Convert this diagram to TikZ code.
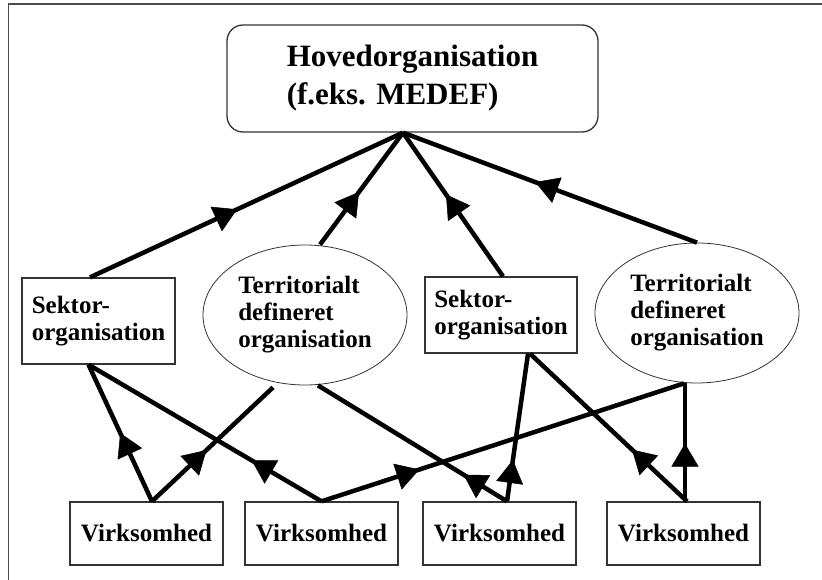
\documentclass[tikz,border=0pt]{standalone}
\usepackage{fontspec}
\setmainfont{Liberation Serif}
\usetikzlibrary{arrows.meta,decorations.markings,shapes.geometric}
\begin{document}
\begin{tikzpicture}[x=1pt,y=-1pt,
  every node/.style={font=\bfseries\fontsize{25}{27}\selectfont, align=left, inner sep=0pt},
  org/.style={draw=black!80, line width=1.3pt, rectangle},
  terr/.style={draw=black!80, line width=0.8pt, ellipse, minimum width=204pt, minimum height=140pt},
  firm/.style={draw=black!80, line width=1.3pt, rectangle, minimum width=153pt, minimum height=63pt},
  link/.style={line width=4.5pt, line join=round},
  tipat/.style={postaction={decorate}, decoration={markings, mark=at position #1 with {\arrow{Triangle[length=23pt,width=27pt,line width=0.5pt]}}}}
]
\useasboundingbox (0,0) rectangle (822,580);
\draw[line width=1.6pt, black!70] (8.5,580) -- (8.5,4) -- (822,4);

\node[org, rounded corners=16pt, minimum width=371pt, minimum height=107pt,
      font=\bfseries\fontsize{31}{38}\selectfont] (hq) at (412.5,78.5) {Hovedorganisation\\(f.eks. MEDEF)};

\node[org, minimum width=153pt, minimum height=86pt] (s1) at (98.5,321) {Sektor-\\organisation};
\node[terr] (e1) at (305,315) {Territorialt\\defineret\\organisation};
\node[org, minimum width=152pt, minimum height=76pt] (s2) at (501,315) {Sektor-\\organisation};
\node[terr] (e2) at (697,313) {Territorialt\\defineret\\organisation};

\node[firm] (v1) at (146.5,533.5) {Virksomhed};
\node[firm] (v2) at (321.5,533.5) {Virksomhed};
\node[firm] (v3) at (499.5,533.5) {Virksomhed};
\node[firm] (v4) at (683.5,533.5) {Virksomhed};

\coordinate (apex) at ([xshift=-9.5pt]hq.south);

% upper level
\draw[link, tipat=0.47] ([xshift=-8.5pt]s1.north) -- (apex);
\draw[link, tipat=0.47] ([xshift=15pt]e1.north) -- (apex);
\draw[link, tipat=0.57] ([xshift=2pt]s2.north) -- (apex);
\draw[link, tipat=0.55] (e2.north) -- (apex);

% lower level
\draw[link, tipat=0.5] ([xshift=5.5pt]v1.north) -- ([xshift=-10pt]s1.south);
\draw[link, tipat=0.45] ([xshift=5.5pt]v1.north) -- ([xshift=-32pt,yshift=-2pt]e1.south);
\draw[link, tipat=0.3] (v2.north) -- ([xshift=-10pt]s1.south);
\draw[link, tipat=0.27] (v2.north) -- ([xshift=-13pt]e2.south);
\draw[link, tipat=0.23] ([xshift=7.5pt]v3.north) -- ([xshift=13pt]e1.south);
\draw[link, tipat=0.28] ([xshift=7.5pt]v3.north) -- ([xshift=27pt]s2.south);
\draw[link, tipat=0.35] ([xshift=3.5pt]v4.north) -- ([xshift=29pt]s2.south);
\draw[link, tipat=0.49] ([xshift=1.5pt]v4.north) -- ([xshift=-12pt]e2.south);
\end{tikzpicture}
\end{document}
